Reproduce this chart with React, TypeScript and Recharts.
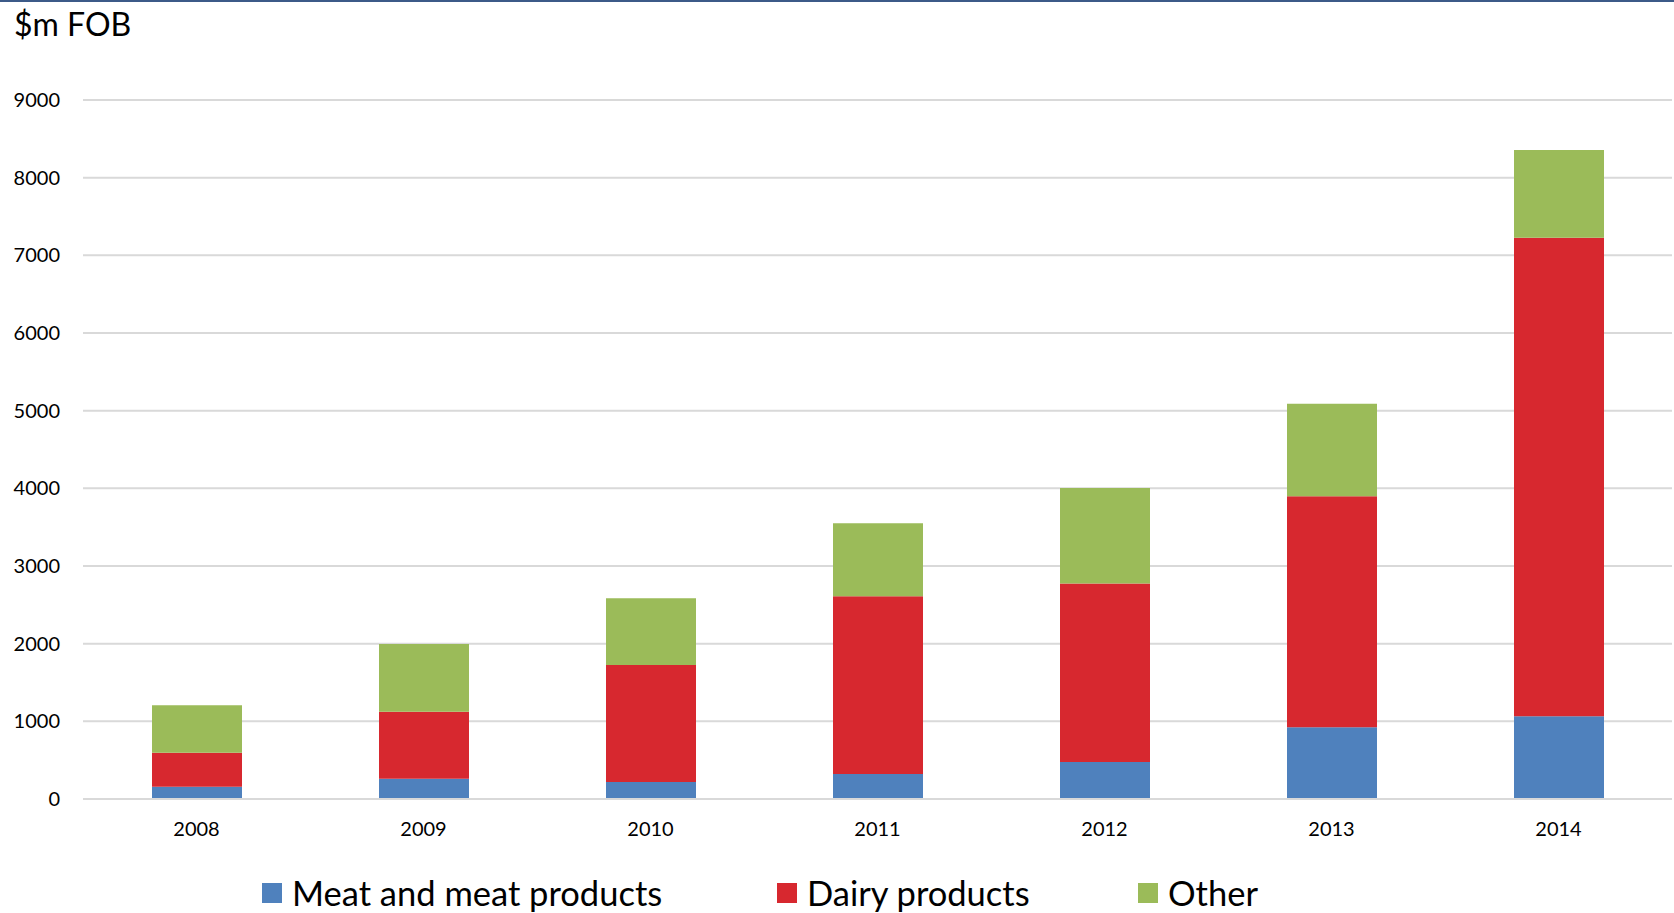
import React from "react";
import {
  BarChart,
  Bar,
  XAxis,
  YAxis,
  CartesianGrid,
  Legend,
} from "recharts";

// Export values by year, $m FOB
const years = ["2008", "2009", "2010", "2011", "2012", "2013", "2014"];
const meat = [158, 261, 219, 322, 476, 923, 1065];
const dairy = [438, 863, 1506, 2288, 2300, 2974, 6162];
const other = [610, 871, 859, 939, 1228, 1193, 1129];
const yTicks = [0, 1000, 2000, 3000, 4000, 5000, 6000, 7000, 8000, 9000];

const seriesNames = ["Meat and meat products", "Dairy products", "Other"];
const seriesColors = ["#4f81bd", "#d7282f", "#9bbb59"];

const data = years.map((year, i) => ({
  year,
  meat: meat[i],
  dairy: dairy[i],
  other: other[i],
}));

const FONT = "Lato, 'Open Sans', sans-serif";
const legendLefts = [262, 777, 1138];

function LegendContent() {
  return (
    <div style={{ position: "relative", width: 1674, height: 40, fontFamily: FONT }}>
      {seriesNames.map((name, i) => (
        <div
          key={name}
          style={{
            position: "absolute",
            left: legendLefts[i],
            top: 0,
            height: 40,
            display: "flex",
            alignItems: "center",
            whiteSpace: "nowrap",
          }}
        >
          <span
            style={{
              display: "inline-block",
              width: 20,
              height: 20,
              background: seriesColors[i],
              marginRight: 10,
            }}
          />
          <span style={{ fontSize: 34.5, color: "#000", lineHeight: "40px" }}>{name}</span>
        </div>
      ))}
    </div>
  );
}

export default function App() {
  return (
    <div
      style={{
        position: "absolute",
        left: 0,
        top: 0,
        width: 1674,
        height: 913,
        background: "#fff",
        overflow: "hidden",
      }}
    >
      <div
        style={{
          position: "absolute",
          left: 0,
          top: 0,
          width: 1674,
          height: 2,
          background: "#3c5a88",
        }}
      />
      <div
        style={{
          position: "absolute",
          left: 14,
          top: 8,
          fontFamily: FONT,
          fontSize: 32,
          lineHeight: 1,
          color: "#000",
        }}
      >
        $m FOB
      </div>
      <BarChart
        width={1674}
        height={913}
        data={data}
        margin={{ top: 100, right: 2, left: 0, bottom: 0 }}
        barSize={90}
      >
        <CartesianGrid vertical={false} stroke="#d9d9d9" strokeWidth={2} />
        <XAxis
          dataKey="year"
          height={114}
          axisLine={{ stroke: "#d9d9d9", strokeWidth: 2 }}
          tickLine={false}
          tickSize={0}
          tickMargin={23}
          tick={{ fill: "#000", fontSize: 20, fontFamily: FONT }}
        />
        <YAxis
          width={83}
          domain={[0, 9000]}
          ticks={yTicks}
          interval={0}
          axisLine={false}
          tickLine={false}
          tickSize={0}
          tickMargin={23}
          tick={{ fill: "#000", fontSize: 20, fontFamily: FONT }}
        />
        <Legend
          verticalAlign="middle"
          align="center"
          layout="horizontal"
          wrapperStyle={{ top: 873, left: 0, width: 1674 }}
          content={() => <LegendContent />}
        />
        <Bar dataKey="meat" stackId="a" fill={seriesColors[0]} isAnimationActive={false} />
        <Bar dataKey="dairy" stackId="a" fill={seriesColors[1]} isAnimationActive={false} />
        <Bar dataKey="other" stackId="a" fill={seriesColors[2]} isAnimationActive={false} />
      </BarChart>
    </div>
  );
}
